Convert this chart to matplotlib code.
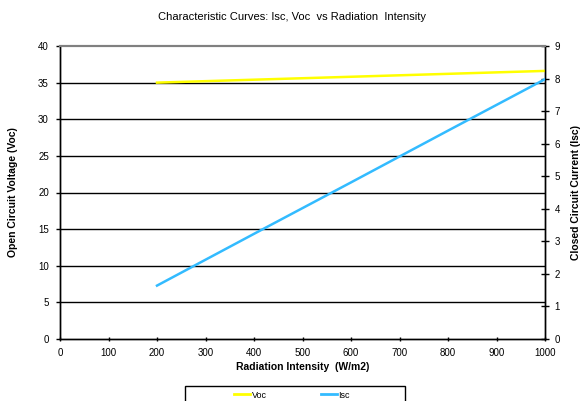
import matplotlib
matplotlib.use("Agg")
import matplotlib.pyplot as plt
from matplotlib.lines import Line2D
from matplotlib.patches import Rectangle

plt.rcParams["font.family"] = ["Liberation Sans", "DejaVu Sans"]

# ── Data ─────────────────────────────────────────────────────────────────────
radiation = [200, 400, 600, 800, 1000]
voc = [35.0, 35.4, 35.8, 36.2, 36.6]
isc = [1.64, 3.23, 4.81, 6.40, 7.98]

x_ticks = list(range(0, 1001, 100))
voc_ticks = list(range(0, 41, 5))
isc_ticks = list(range(0, 10))

W, H = 585, 401
fig = plt.figure(figsize=(W / 100, H / 100), dpi=100)
ax = fig.add_axes([60 / W, 62 / H, 485 / W, 293 / H])

# horizontal grid (black)
for v in voc_ticks[1:-1]:
    ax.axhline(v, color="black", linewidth=1.0, zorder=1)

ax.plot(radiation, voc, color="#FFFF00", linewidth=1.8, zorder=3)
ax.set_xlim(0, 1000)
ax.set_ylim(0, 40)
ax.set_xticks(x_ticks)
ax.set_yticks(voc_ticks)

ax2 = ax.twinx()
ax2.plot(radiation, isc, color="#33BBFF", linewidth=1.8, zorder=3)
ax2.set_ylim(0, 9)
ax2.set_yticks(isc_ticks)

ax.tick_params(axis="y", labelsize=7, length=3, width=1, direction="out", pad=5)
ax.tick_params(axis="x", labelsize=7, length=3, width=1, direction="inout", pad=5)
ax2.tick_params(axis="y", labelsize=7, length=6, width=1, direction="inout", pad=4)
for a in (ax, ax2):
    for s in a.spines.values():
        s.set_linewidth(1.0)
    a.spines["top"].set_color("#808080")
    a.spines["top"].set_linewidth(1.5)

ax.set_xlabel("Radiation Intensity  (W/m2)", fontsize=7.5, fontweight="bold", labelpad=3)
fig.text(13 / W, 1 - 192 / H, "Open Circuit Voltage (Voc)", rotation=90,
         ha="center", va="center", fontsize=7.5, fontweight="bold")
fig.text(576 / W, 1 - 192 / H, "Closed Circuit Current (Isc)", rotation=90,
         ha="center", va="center", fontsize=7.5, fontweight="bold")

fig.text(0.5, 1 - 17 / H, "Characteristic Curves: Isc, Voc  vs Radiation  Intensity",
         ha="center", va="center", fontsize=8)

# legend box (runs off the bottom edge, as in the original)
fig.patches.append(Rectangle((185 / W, -10 / H), 220 / W, (H - 386 + 10) / H,
                             transform=fig.transFigure, fill=False,
                             edgecolor="black", linewidth=1.0))
handles = [Line2D([], [], color="#FFFF00", linewidth=2),
           Line2D([], [], color="#33BBFF", linewidth=2)]
leg = fig.legend(handles, ["Voc", "Isc"], loc="center left", ncol=2,
                 bbox_to_anchor=(234 / W, 1 - 395 / H), fontsize=6.5,
                 frameon=False, handlelength=1.8,
                 handletextpad=0.15, columnspacing=6.0, borderpad=0.0,
                 borderaxespad=0.0)

fig.savefig("out.png", dpi=100)
